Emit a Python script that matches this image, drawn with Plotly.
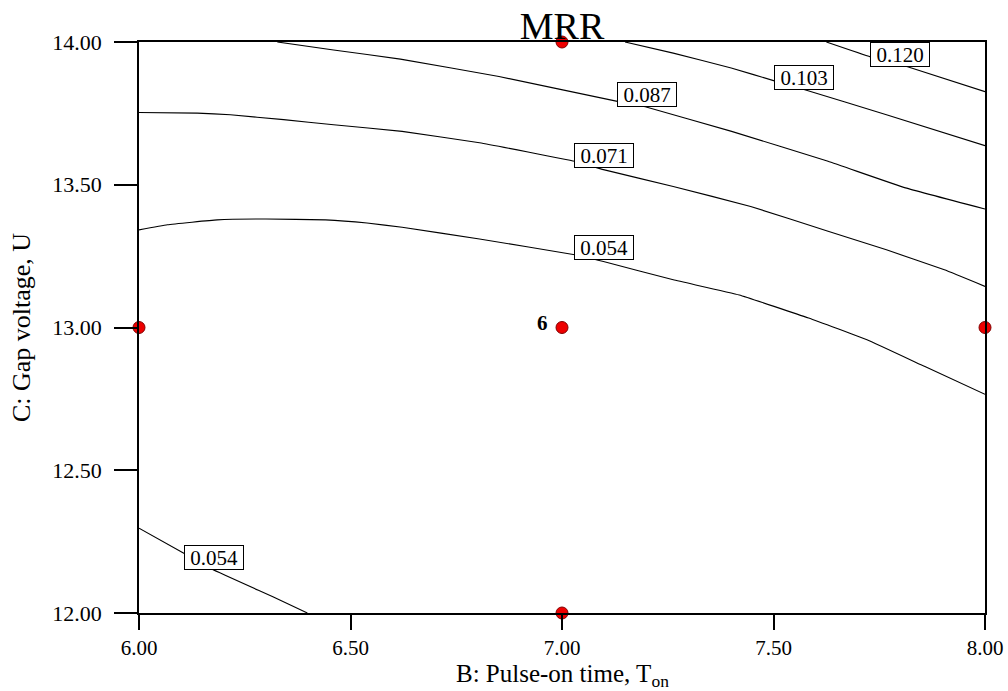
import plotly.graph_objects as go

# ---- data ----
c120_x = [7.625, 7.729, 7.817, 8.0]
c120_y = [14.0, 13.948, 13.913, 13.826]

c103_x = [7.149, 7.263, 7.400, 7.506, 7.574, 7.767, 8.0]
c103_y = [14.0, 13.961, 13.909, 13.862, 13.833, 13.745, 13.637]

c087_x = [6.327, 6.460, 6.618, 6.851, 7.131, 7.199, 7.401, 7.629, 7.812, 8.0]
c087_y = [14.0, 13.972, 13.940, 13.879, 13.792, 13.772, 13.687, 13.582, 13.489, 13.415]

c071_x = [6.0, 6.138, 6.216, 6.342, 6.460, 6.622, 6.805, 7.030, 7.098, 7.263, 7.446, 7.629, 7.767, 7.904, 8.0]
c071_y = [13.753, 13.751, 13.745, 13.728, 13.710, 13.687, 13.647, 13.582, 13.553, 13.494, 13.424, 13.337, 13.272, 13.202, 13.144]

c054a_x = [6.0, 6.067, 6.185, 6.30, 6.441, 6.539, 6.622, 6.805, 7.030, 7.098, 7.263, 7.419, 7.583, 7.721, 7.858, 8.0]
c054a_y = [13.342, 13.360, 13.377, 13.380, 13.377, 13.366, 13.351, 13.310, 13.255, 13.231, 13.167, 13.114, 13.033, 12.957, 12.863, 12.766]

c054b_x = [6.0, 6.106, 6.173, 6.319, 6.398]
c054b_y = [12.297, 12.209, 12.153, 12.055, 12.0]

label_text = ["0.120", "0.103", "0.087", "0.071", "0.054", "0.054"]
label_x = [7.798, 7.573, 7.200, 7.100, 7.100, 6.178]
label_y = [13.955, 13.875, 13.815, 13.602, 13.279, 12.196]

design_x = [6.0, 7.0, 7.0, 8.0, 7.0]
design_y = [13.0, 14.0, 13.0, 13.0, 12.0]

x_ticks = [6.0, 6.5, 7.0, 7.5, 8.0]
x_tick_labels = ["6.00", "6.50", "7.00", "7.50", "8.00"]
y_ticks = [12.0, 12.5, 13.0, 13.5, 14.0]
y_tick_labels = ["12.00", "12.50", "13.00", "13.50", "14.00"]

FONT = "Liberation Serif"

fig = go.Figure()
for xs, ys in [(c120_x, c120_y), (c103_x, c103_y), (c087_x, c087_y),
               (c071_x, c071_y), (c054a_x, c054a_y), (c054b_x, c054b_y)]:
    fig.add_trace(go.Scatter(x=xs, y=ys, mode="lines",
                             line=dict(color="black", width=1.1, shape="spline", smoothing=0.3),
                             showlegend=False, hoverinfo="skip"))

fig.add_trace(go.Scatter(x=design_x, y=design_y, mode="markers", cliponaxis=False,
                         marker=dict(color="#ee0000", size=12, line=dict(color="#800000", width=1)),
                         showlegend=False))

for t, lx, ly in zip(label_text, label_x, label_y):
    fig.add_annotation(x=lx, y=ly, text=t, showarrow=False, bgcolor="white",
                       bordercolor="black", borderwidth=1, borderpad=1, width=56, height=21,
                       font=dict(family=FONT, size=21, color="black"))

fig.add_annotation(x=7.0, y=13.0, text="<b>6</b>", showarrow=False, xshift=-20, yshift=5,
                   font=dict(family=FONT, size=21, color="black"))

# x-axis title as annotation for exact vertical placement
fig.add_annotation(x=0.5, y=0, xref="paper", yref="paper", xanchor="center", yanchor="top",
                   yshift=-45, showarrow=False, text="B: Pulse-on time, T<sub>on</sub>",
                   font=dict(family=FONT, size=25, color="black"))

fig.update_layout(
    width=1008, height=691,
    margin=dict(l=139, r=23, t=42, b=78, autoexpand=False),
    paper_bgcolor="white", plot_bgcolor="white",
    title=dict(text="MRR", x=0.5, xanchor="center", xref="paper", y=0.963, yanchor="middle",
               font=dict(family=FONT, size=38, color="black")),
    font=dict(family=FONT, color="black"),
)
fig.update_xaxes(range=[6, 8], tickvals=x_ticks, ticktext=x_tick_labels, ticks="outside", ticklen=15,
                 tickwidth=1.5, tickcolor="black", showline=True, linecolor="black", linewidth=1.5,
                 mirror=True, showgrid=False, zeroline=False, ticklabelstandoff=0,
                 tickfont=dict(family=FONT, size=21, color="black"))
fig.update_yaxes(range=[12, 14], tickvals=y_ticks, ticktext=y_tick_labels, ticks="outside", ticklen=23,
                 tickwidth=1.5, tickcolor="black", showline=True, linecolor="black", linewidth=1.5,
                 mirror=True, showgrid=False, zeroline=False, ticklabelstandoff=8,
                 tickfont=dict(family=FONT, size=22, color="black"),
                 title=dict(text="C: Gap voltage, U", standoff=14,
                            font=dict(family=FONT, size=26, color="black")))

fig.write_html("out.html", config={"displayModeBar": False},
               post_script="document.body.style.margin='0';document.body.style.overflow='hidden';")
